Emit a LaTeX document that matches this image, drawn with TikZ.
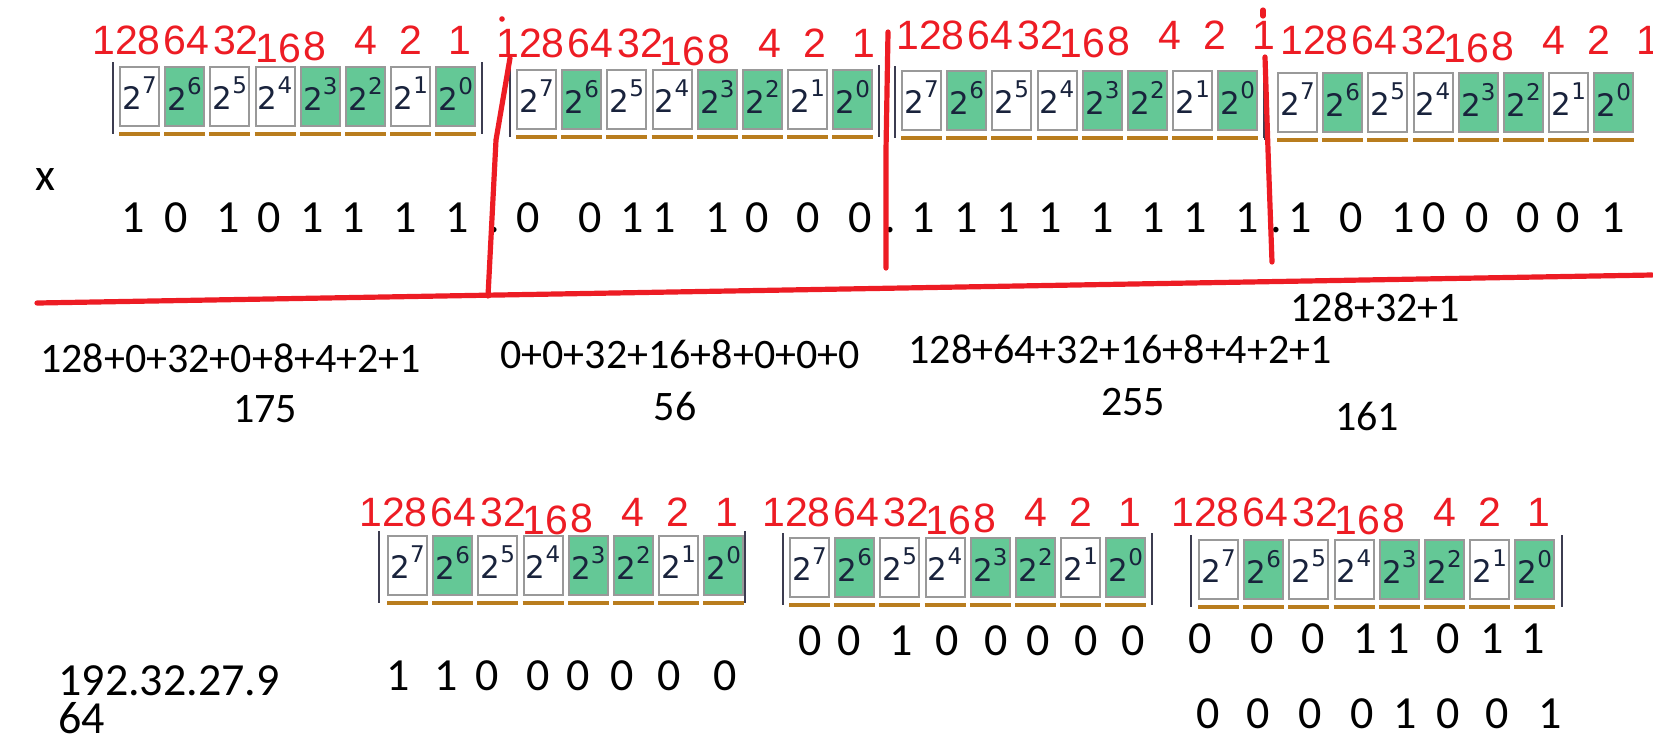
\documentclass[tikz,border=0pt]{standalone}
\usepackage{fontspec}
\setmainfont{Carlito}
\newfontfamily\labelfont{Liberation Sans}
\newfontfamily\boxfont{DejaVu Sans}
\usepackage{tikz}
\usetikzlibrary{positioning}
\definecolor{penred}{RGB}{237,28,36}
\definecolor{bitgreen}{RGB}{100,200,150}
\definecolor{underorange}{RGB}{185,125,30}
\definecolor{bardark}{RGB}{60,60,80}
\definecolor{digitnavy}{RGB}{25,35,60}

% 2 to the power #1, as printed in the bit boxes
\newcommand{\pw}[1]{{\boxfont\fontsize{15.5pt}{15.5pt}\selectfont 2}\raisebox{8pt}{\boxfont\fontsize{11.5pt}{11pt}\selectfont #1}}

% #1 name, #2 left of first box, #3 top of boxes, #4/#5 shift of red labels, #6 bar offsets
\newcommand{\bitgroup}[6]{
    \foreach \bx in {#6}
        \draw[groupbar] ({#2+\bx},{#3-4}) -- ({#2+\bx},{#3+68});
    \foreach \k/\p/\f/\lab/\ldx/\ldy in {0/7/white/128/7.5/0, 1/6/bitgreen/64/67.5/0, 2/5/white/32/117/0, 3/4/white/16/159.5/8, 4/3/bitgreen/8/196/6, 5/2/bitgreen/4/247/0, 6/1/white/2/292/0, 7/0/bitgreen/1/341/0} {
        \node[bitbox, fill=\f] (#1-\k) at ({#2+\k*45.2},#3) {\pw{\p}};
        \draw[underbar] ([yshift=-3.5pt]#1-\k.south west) -- ([yshift=-3.5pt]#1-\k.south east);
        \node[bitlabel] (#1-l\k) at ({#2+\ldx+(#4)},{#3-25.5+\ldy+(#5)}) {\lab};
    }
}

\begin{document}
\begin{tikzpicture}[
    x=0.5pt, y=-0.5pt,
    bitbox/.style={rectangle, draw=black!40, line width=1pt, minimum width=19.5pt, minimum height=29.5pt, inner sep=0pt, anchor=north west, text=digitnavy, text depth=3pt},
    bitlabel/.style={text=penred, font=\labelfont\fontsize{20.5pt}{20.5pt}\selectfont, inner sep=0pt},
    bitdigit/.style={font=\fontsize{23pt}{23pt}\selectfont, inner sep=0pt, anchor=base},
    sumtext/.style={font=\fontsize{21pt}{21pt}\selectfont, inner sep=0pt, anchor=base west},
    sumresult/.style={font=\fontsize{21pt}{21pt}\selectfont, inner sep=0pt, anchor=base},
    penline/.style={draw=penred, line width=2.6pt, line cap=round, line join=round},
    underbar/.style={draw=underorange, line width=2pt},
    groupbar/.style={draw=bardark, line width=1.1pt}
]
    \useasboundingbox (0,0) rectangle (1653,741);

    % the four octets of x
    \bitgroup{g1}{119}{66}{0}{0}{-6,363}
    \bitgroup{g2}{516}{69}{7}{0}{-6,363}
    \bitgroup{g3}{901}{70}{22}{-9.5}{-6,363}
    \bitgroup{g4}{1277}{72}{30}{-6.5}{-12}

    \node[bitdigit, anchor=base west] (xname) at (35,190) {x};
    \foreach \x/\d [count=\i] in {133/1,176/0,228/1,269/0,312/1,353/1,405/1,457/1}
        \node[bitdigit] (xa-\i) at (\x,232) {\d};
    \foreach \x/\d [count=\i] in {528/0,590/0,632/1,664/1,717/1,757/0,808/0,860/0}
        \node[bitdigit] (xb-\i) at (\x,232) {\d};
    \foreach \x/\d [count=\i] in {923/1,966/1,1008/1,1050/1,1102/1,1153/1,1195/1,1247/1}
        \node[bitdigit] (xc-\i) at (\x,232) {\d};
    \foreach \x/\d [count=\i] in {1300/1,1351/0,1403/1,1434/0,1477/0,1528/0,1568/0,1613/1}
        \node[bitdigit] (xd-\i) at (\x,232) {\d};
    \node[bitdigit] (dot1) at (494,232) {.};
    \node[bitdigit] (dot2) at (890,232) {.};
    \node[bitdigit] (dot3) at (1276,232) {.};

    % sums and decimal values
    \node[sumtext] (sum1) at (40,372) {128+0+32+0+8+4+2+1};
    \node[sumtext] (sum2) at (500,368) {0+0+32+16+8+0+0+0};
    \node[sumtext] (sum3) at (908,363) {128+64+32+16+8+4+2+1};
    \node[sumtext] (sum4) at (1290,321) {128+32+1};
    \node[sumresult] (dec1) at (265,422) {175};
    \node[sumresult] (dec2) at (675,420) {56};
    \node[sumresult] (dec3) at (1133,415) {255};
    \node[sumresult] (dec4) at (1367,430) {161};

    % the second address
    \bitgroup{b1}{387}{535}{-1}{2.5}{-8,358}
    \bitgroup{b2}{789}{537}{0}{1}{-6,363}
    \bitgroup{b3}{1198}{539}{0}{-1.5}{-7,364}

    \node[bitdigit, anchor=base west] (ipaddr) at (58,695) {192.32.27.9};
    \node[bitdigit, anchor=base west] (prefix) at (58,733) {64};
    \foreach \x/\d [count=\i] in {398/1,446/1,487/0,538/0,578/0,622/0,669/0,725/0}
        \node[bitdigit] (ya-\i) at (\x,690) {\d};
    \foreach \x/\d [count=\i] in {810/0,849/0,901/1,947/0,996/0,1038/0,1086/0,1133/0}
        \node[bitdigit] (yb-\i) at (\x,655) {\d};
    \foreach \x/\d [count=\i] in {1200/0,1262/0,1313/0,1365/1,1398/1,1448/0,1492/1,1533/1}
        \node[bitdigit] (yc-\i) at (\x,653) {\d};
    \foreach \x/\d [count=\i] in {1208/0,1258/0,1310/0,1362/0,1405/1,1448/0,1497/0,1550/1}
        \node[bitdigit] (yd-\i) at (\x,728) {\d};

    % red pen strokes
    \draw[penline] (37,303) -- (1652,275);
    \draw[penline] (510,58) -- (496,140) -- (488,296);
    \draw[penline] (888,32) -- (886,150) -- (886,268);
    \draw[penline] (1265,57) -- (1268,150) -- (1272,262);
    \fill[penred] (502,19) circle (1.4pt);
    \draw[penline] (1263,10) -- (1263,16);
\end{tikzpicture}
\end{document}
